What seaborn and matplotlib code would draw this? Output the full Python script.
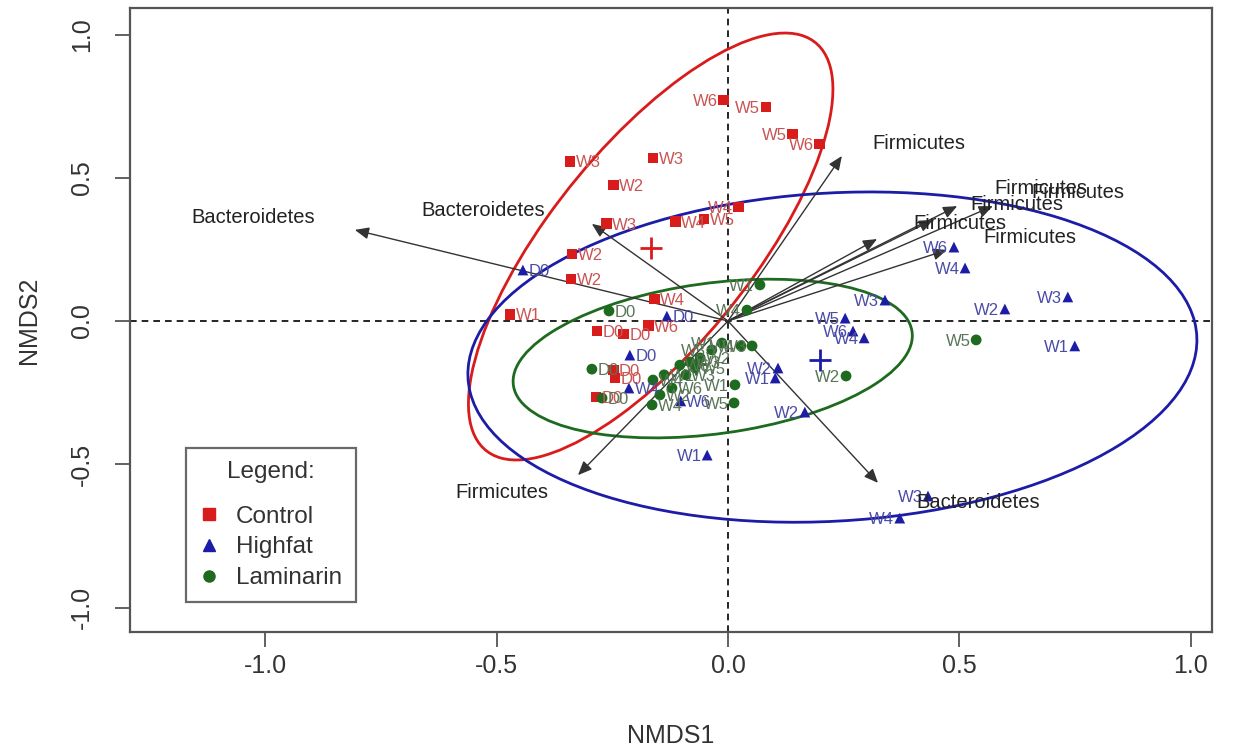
import numpy as np
import pandas as pd
import matplotlib
matplotlib.use("Agg")
import matplotlib.pyplot as plt
from matplotlib.patches import Ellipse
from matplotlib.lines import Line2D
import seaborn as sns

# ---- sample scores (NMDS1, NMDS2) and their sampling-time labels ----
control_x = [-0.009, 0.082, 0.140, 0.197, -0.341, -0.162, -0.248, 0.022, -0.263, -0.114,
             -0.052, -0.337, -0.339, -0.471, -0.158, -0.171, -0.283, -0.225, -0.248, -0.244, -0.285]
control_y = [0.771, 0.747, 0.653, 0.618, 0.558, 0.569, 0.475, 0.398, 0.339, 0.346,
             0.356, 0.234, 0.147, 0.024, 0.077, -0.017, -0.035, -0.045, -0.171, -0.199, -0.265]
control_lab = ["W6", "W5", "W5", "W6", "W3", "W3", "W2", "W4", "W3", "W4",
               "W5", "W2", "W2", "W1", "W4", "W6", "D0", "D0", "D0", "D0", "D0"]
control_side = ["L", "L", "L", "L", "R", "R", "R", "L", "R", "R",
                "R", "R", "R", "R", "R", "R", "R", "R", "R", "R", "R"]

highfat_x = [-0.443, -0.132, -0.212, -0.214, -0.102, -0.045, 0.108, 0.102, 0.166, 0.253,
             0.270, 0.294, 0.339, 0.488, 0.512, 0.598, 0.734, 0.749, 0.432, 0.371]
highfat_y = [0.178, 0.017, -0.119, -0.234, -0.279, -0.468, -0.164, -0.199, -0.318, 0.010,
             -0.035, -0.059, 0.073, 0.258, 0.185, 0.042, 0.084, -0.087, -0.611, -0.688]
highfat_lab = ["D0", "D0", "D0", "W4", "W6", "W1", "W2", "W1", "W2", "W5",
               "W6", "W4", "W3", "W6", "W4", "W2", "W3", "W1", "W3", "W4"]
highfat_side = ["R", "R", "R", "R", "R", "L", "L", "L", "L", "L",
                "L", "L", "L", "L", "L", "L", "L", "L", "L", "L"]

laminarin_x = [0.536, 0.255, 0.015, 0.013, 0.028, 0.052, 0.069, 0.041, -0.257, -0.294,
               -0.272, -0.162, -0.138, -0.104, -0.082, -0.060, -0.035, -0.013, -0.121,
               -0.147, -0.164, -0.091, -0.071]
laminarin_y = [-0.066, -0.192, -0.223, -0.286, -0.087, -0.087, 0.126, 0.038, 0.035, -0.168,
               -0.269, -0.206, -0.188, -0.154, -0.143, -0.129, -0.101, -0.077, -0.234,
               -0.258, -0.293, -0.188, -0.164]
laminarin_lab = ["W5", "W2", "W1", "W5", "W4", "W3", "W1", "W4", "D0", "D0",
                 "D0", "W4", "W1", "W6", "W3", "W2", "W5", "W1", "W6",
                 "W2", "W4", "W3", "W5"]
laminarin_side = ["L", "L", "L", "L", "L", "L", "L", "L", "R", "R",
                  "R", "R", "R", "R", "R", "R", "L", "L", "R",
                  "R", "R", "R", "R"]

groups = ["Control", "Highfat", "Laminarin"]
group_colors = ["#d81c1c", "#1c1ca6", "#1e6a1e"]
label_colors = ["#c95454", "#4b4ba8", "#5a7558"]
group_markers = ["s", "^", "o"]

# group centroids (+) and dispersion ellipses: centre, semi-axes, rotation (deg)
centroid_x = [-0.166, 0.199, -0.070]
centroid_y = [0.255, -0.136, -0.150]
ell_cx = [-0.167, 0.2255, -0.033]
ell_cy = [0.260, -0.126, -0.131]
ell_a = [0.806, 0.792, 0.4425]
ell_b = [0.246, 0.570, 0.2584]
ell_angle = [66.4, 9.0, 16.1]

# fitted phylum vectors: arrow tips and label positions
vec_names = ["Bacteroidetes", "Bacteroidetes", "Bacteroidetes",
             "Firmicutes", "Firmicutes", "Firmicutes", "Firmicutes",
             "Firmicutes", "Firmicutes", "Firmicutes"]
vec_x = [-0.806, -0.294, 0.324, -0.324, 0.246, 0.322, 0.443, 0.495, 0.572, 0.473]
vec_y = [0.318, 0.339, -0.565, -0.538, 0.576, 0.286, 0.353, 0.401, 0.401, 0.248]
vec_lab_x = [-1.026, -0.529, 0.540, -0.488, 0.413, 0.501, 0.624, 0.676, 0.756, 0.652]
vec_lab_y = [0.360, 0.387, -0.632, -0.600, 0.621, 0.342, 0.405, 0.464, 0.450, 0.293]

x_ticks = [-1.0, -0.5, 0.0, 0.5, 1.0]
y_ticks = [-1.0, -0.5, 0.0, 0.5, 1.0]

# ---- assemble long table ----
frames = []
for g, xs, ys, labs, sides in zip(
        groups,
        [control_x, highfat_x, laminarin_x],
        [control_y, highfat_y, laminarin_y],
        [control_lab, highfat_lab, laminarin_lab],
        [control_side, highfat_side, laminarin_side]):
    frames.append(pd.DataFrame({"NMDS1": xs, "NMDS2": ys, "label": labs,
                                "side": sides, "group": g}))
scores = pd.concat(frames, ignore_index=True)

sns.set_theme(style="white")
plt.rcParams["font.family"] = ["Liberation Sans", "DejaVu Sans"]

fig = plt.figure(figsize=(12.38, 7.54), dpi=100)
ax = fig.add_axes([130 / 1238, 1 - 632 / 754, 1082 / 1238, 624 / 754])

# reference lines through the origin
ax.axhline(0, color="black", lw=1.2, ls=(0, (4, 3)), zorder=1)
ax.axvline(0, color="black", lw=1.2, ls=(0, (4, 3)), zorder=1)

# dispersion ellipses
for i in range(3):
    ax.add_patch(Ellipse((ell_cx[i], ell_cy[i]), 2 * ell_a[i], 2 * ell_b[i],
                         angle=ell_angle[i], fill=False, ec=group_colors[i],
                         lw=2.0, zorder=2))

# sample points
pal = dict(zip(groups, group_colors))
mk = dict(zip(groups, group_markers))
sns.scatterplot(data=scores, x="NMDS1", y="NMDS2", hue="group", style="group",
                palette=pal, markers=mk, s=60, linewidth=0, legend=False,
                ax=ax, zorder=4)

# sample labels
lab_col = dict(zip(groups, label_colors))
for _, r in scores.iterrows():
    right = r["side"] == "R"
    ax.annotate(r["label"], (r["NMDS1"], r["NMDS2"]),
                xytext=(4 if right else -4, -1), textcoords="offset points",
                ha="left" if right else "right", va="center",
                fontsize=12, color=lab_col[r["group"]], zorder=5)

# group centroids
for i in range(3):
    ax.plot(centroid_x[i], centroid_y[i], marker="+", ms=16, mew=2,
            color=group_colors[i], zorder=4)

# phylum vectors from the origin
for nm, vx, vy, lx, ly in zip(vec_names, vec_x, vec_y, vec_lab_x, vec_lab_y):
    ax.annotate("", xy=(vx, vy), xytext=(0, 0),
                arrowprops=dict(arrowstyle="-|>,head_length=0.7,head_width=0.3",
                                color="#333333", lw=1.0, shrinkA=0, shrinkB=0),
                zorder=3)
    ax.text(lx, ly, nm, fontsize=14.5, color="#222222", ha="center",
            va="center", zorder=6)

ax.set_xlim(-1.2916, 1.0454)
ax.set_ylim(-1.0855, 1.0925)
ax.set_xticks(x_ticks)
ax.set_yticks(y_ticks)
ax.set_xticklabels([f"{v:.1f}" for v in x_ticks])
ax.set_yticklabels([f"{v:.1f}" for v in y_ticks], rotation=90, va="center")
ax.tick_params(axis="both", direction="out", length=11, width=1.3,
               color="#555555", labelsize=18, labelcolor="#333333",
               bottom=True, left=True)
ax.tick_params(axis="x", pad=5)
ax.tick_params(axis="y", pad=15)
for sp in ax.spines.values():
    sp.set_color("#555555")
    sp.set_linewidth(1.6)
ax.set_xlabel("NMDS1", fontsize=18, color="#333333", labelpad=33)
ax.set_ylabel("NMDS2", fontsize=18, color="#333333", labelpad=21)

handles = [Line2D([], [], ls="none", marker=m, color=c, ms=8)
           for m, c in zip(group_markers, group_colors)]
leg = ax.legend(handles, groups, title="Legend:", loc="upper left",
                bbox_to_anchor=(0.052, 0.295), fontsize=17.5, title_fontsize=17.5,
                frameon=True, fancybox=False, edgecolor="#444444",
                handlelength=0.8, handletextpad=0.7, labelspacing=0.36,
                borderpad=0.55, borderaxespad=0)
leg._legend_box.sep = 16
leg.get_frame().set_linewidth(1.6)
for t in leg.get_texts():
    t.set_color("#333333")
leg.get_title().set_color("#333333")

fig.savefig("out.png", dpi=100)
